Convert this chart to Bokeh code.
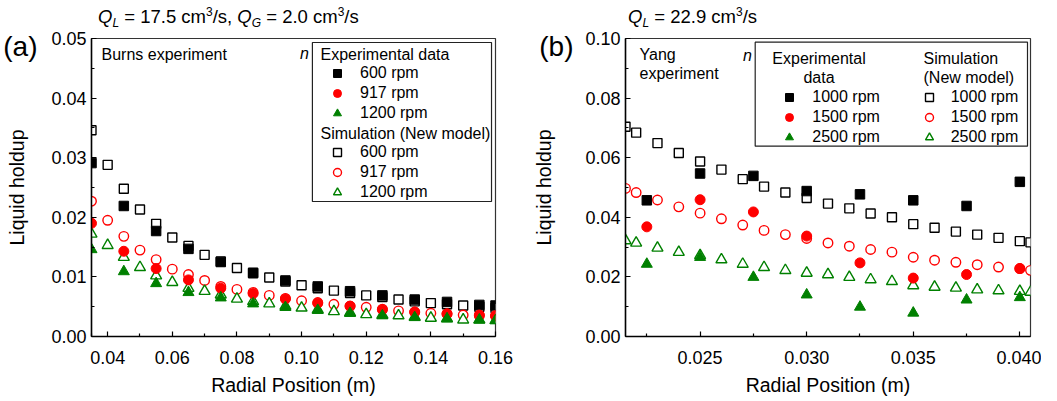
from bokeh.plotting import figure
from bokeh.layouts import row, column
from bokeh.models import (FixedTicker, NumeralTickFormatter, Label, Legend, LegendItem,
                          BoxAnnotation, Range1d, LinearAxis, Div)
from bokeh.embed import file_html
from bokeh.resources import INLINE

FONT = "Liberation Sans"
GREEN = "#008000"
RED = "#ff0000"

# ---------------- Panel (a): Burns experiment ----------------
a_sim_x = [0.035, 0.040, 0.045, 0.050, 0.055, 0.060, 0.065, 0.070, 0.075, 0.080, 0.085, 0.090, 0.095,
           0.100, 0.105, 0.110, 0.115, 0.120, 0.125, 0.130, 0.135, 0.140, 0.145, 0.150, 0.155, 0.160]
a_sim_600 = [0.0346, 0.0288, 0.0248, 0.0213, 0.0189, 0.0166, 0.0152, 0.0137, 0.0126, 0.0115, 0.0106, 0.0099, 0.0092,
             0.0086, 0.0081, 0.0077, 0.0073, 0.0069, 0.0066, 0.0062, 0.0059, 0.0056, 0.0054, 0.0052, 0.0050, 0.0048]
a_sim_917 = [0.0227, 0.0195, 0.0168, 0.0145, 0.0129, 0.0113, 0.0104, 0.0094, 0.0084, 0.0079, 0.0074, 0.0069, 0.0064,
             0.0060, 0.0057, 0.0054, 0.0051, 0.0049, 0.0046, 0.0043, 0.0041, 0.0039, 0.0038, 0.0036, 0.0035, 0.0034]
a_sim_1200 = [0.0172, 0.0153, 0.0133, 0.0116, 0.0102, 0.0091, 0.0081, 0.0076, 0.0070, 0.0063, 0.0059, 0.0055, 0.0051,
              0.0048, 0.0045, 0.0042, 0.0040, 0.0037, 0.0036, 0.0035, 0.0033, 0.0031, 0.0030, 0.0028, 0.0028, 0.0027]

a_exp_x = [0.035, 0.045, 0.055, 0.065, 0.075, 0.085, 0.095, 0.105, 0.115, 0.125, 0.135, 0.145, 0.155, 0.160]
a_exp_600 = [0.0291, 0.0219, 0.0177, 0.0147, 0.0125, 0.0107, 0.0094, 0.0084, 0.0076, 0.0069, 0.0062, 0.0058, 0.0053, 0.0052]
a_exp_917 = [0.0190, 0.0143, 0.0114, 0.0095, 0.0081, 0.0072, 0.0063, 0.0056, 0.0051, 0.0045, 0.0041, 0.0038, 0.0036, 0.0035]
a_exp_1200 = [0.0146, 0.0109, 0.0089, 0.0074, 0.0065, 0.0055, 0.0049, 0.0044, 0.0039, 0.0035, 0.0032, 0.0030, 0.0028, 0.0027]
a_labels = ["600 rpm", "917 rpm", "1200 rpm"]

# ---------------- Panel (b): Yang experiment ----------------
b_sim_x = [0.0215, 0.022, 0.023, 0.024, 0.025, 0.026, 0.027, 0.028, 0.029, 0.030, 0.031,
           0.032, 0.033, 0.034, 0.035, 0.036, 0.037, 0.038, 0.039, 0.040, 0.0405]
b_sim_1000 = [0.0704, 0.0684, 0.0649, 0.0616, 0.0587, 0.0560, 0.0528, 0.0503, 0.0483, 0.0465, 0.0446,
              0.0430, 0.0413, 0.0400, 0.0377, 0.0365, 0.0352, 0.0342, 0.0331, 0.0320, 0.0316]
b_sim_1500 = [0.0497, 0.0483, 0.0458, 0.0435, 0.0414, 0.0395, 0.0374, 0.0356, 0.0342, 0.0329, 0.0314,
              0.0303, 0.0292, 0.0283, 0.0266, 0.0256, 0.0249, 0.0241, 0.0233, 0.0228, 0.0222]
b_sim_2500 = [0.0322, 0.0314, 0.0297, 0.0283, 0.0272, 0.0258, 0.0243, 0.0232, 0.0222, 0.0213, 0.0208,
              0.0199, 0.0191, 0.0185, 0.0171, 0.0166, 0.0163, 0.0157, 0.0154, 0.0152, 0.0149]

b_exp_x = [0.0225, 0.025, 0.0275, 0.030, 0.0325, 0.035, 0.0375, 0.040]
b_exp_1000 = [0.0457, 0.0547, 0.0539, 0.0488, 0.0477, 0.0457, 0.0438, 0.0519]
b_exp_1500 = [0.0368, 0.0459, 0.0418, 0.0337, 0.0247, 0.0196, 0.0208, 0.0228]
b_exp_2500 = [0.0243, 0.0266, 0.0199, 0.0140, 0.0099, 0.0079, 0.0123, 0.0131]
b_labels = ["1000 rpm", "1500 rpm", "2500 rpm"]


class Frame:
    def __init__(self, left, top, x0, x1, y0, y1, w, h):
        self.left, self.top = left, top
        self.x0, self.x1, self.y0, self.y1 = x0, x1, y0, y1
        self.sx = w / (x1 - x0)
        self.sy = h / (y1 - y0)

    def dx(self, px):
        return self.x0 + (px - self.left) / self.sx

    def dy(self, py):
        return self.y1 - (py - self.top) / self.sy


def add_label(p, fr, px, py, text, size, style="normal", align="left", baseline="middle"):
    p.add_layout(Label(x=fr.x0, y=fr.y1, x_offset=px - fr.left, y_offset=fr.top - py,
                       text=text, text_font=FONT, text_font_size=f"{size}px",
                       text_font_style=style, text_align=align, text_baseline=baseline,
                       text_color="black"))


FH = 298
TOP = 8
BOTTOM = 64
H = TOP + FH + BOTTOM
DIV_H = 30


def make_fig(width, bl, br, xr, yr, xticks, xminor, yticks, yminor, xfmt, ylab_standoff):
    p = figure(width=width, height=H, x_range=Range1d(*xr), y_range=Range1d(*yr),
               output_backend="svg", toolbar_location=None,
               min_border_left=bl, min_border_right=br, min_border_top=TOP,
               min_border_bottom=BOTTOM)
    p.xgrid.visible = False
    p.ygrid.visible = False
    p.outline_line_color = "#333333"
    p.outline_line_width = 1.2
    p.background_fill_color = "white"
    p.border_fill_color = "white"
    p.xaxis.ticker = FixedTicker(ticks=xticks, minor_ticks=xminor)
    p.yaxis.ticker = FixedTicker(ticks=yticks, minor_ticks=yminor)
    p.xaxis.formatter = NumeralTickFormatter(format=xfmt)
    p.yaxis.formatter = NumeralTickFormatter(format="0.00")
    p.xaxis.axis_label = "Radial Position (m)"
    p.yaxis.axis_label = "Liquid holdup"
    for ax in (p.xaxis[0], p.yaxis[0]):
        ax.major_tick_in = 5
        ax.major_tick_out = 0
        ax.minor_tick_in = 3
        ax.minor_tick_out = 0
        ax.axis_line_width = 1.5
        ax.major_tick_line_width = 1.2
        ax.minor_tick_line_width = 1.2
        ax.major_label_text_font = FONT
        ax.major_label_text_font_size = "18px"
        ax.major_label_text_color = "black"
        ax.axis_label_text_font = FONT
        ax.axis_label_text_font_size = "19.5px"
        ax.axis_label_text_font_style = "normal"
        ax.axis_label_text_color = "black"
    p.xaxis.major_label_standoff = 14
    p.xaxis.axis_label_standoff = 7
    p.yaxis.major_label_standoff = 5
    p.yaxis.axis_label_standoff = ylab_standoff
    return p


def panel_tag(p, fr, text, py_center, standoff):
    """Panel letter, drawn as the only tick label of an extra left axis."""
    tick = fr.dy(py_center)
    ax = LinearAxis(ticker=FixedTicker(ticks=[tick], minor_ticks=[]),
                    major_label_overrides={tick: text},
                    axis_line_color=None, major_tick_line_color=None, minor_tick_line_color=None,
                    major_tick_in=0, major_tick_out=0, minor_tick_in=0, minor_tick_out=0,
                    major_label_standoff=standoff,
                    major_label_text_font=FONT, major_label_text_font_size="28px",
                    major_label_text_color="black")
    p.add_layout(ax, "left")


def draw_series(p, sim_x, sims, exp_x, exps):
    r_sim = [
        p.scatter(sim_x, sims[0], marker="square", size=9, fill_color="white", line_color="black", line_width=1.4),
        p.scatter(sim_x, sims[1], marker="circle", size=9.5, fill_color="white", line_color=RED, line_width=1.4),
        p.scatter(sim_x, sims[2], marker="triangle", size=11, fill_color="white", line_color=GREEN, line_width=1.4),
    ]
    r_exp = [
        p.scatter(exp_x, exps[0], marker="square", size=9.5, fill_color="black", line_color="black"),
        p.scatter(exp_x, exps[1], marker="circle", size=10, fill_color=RED, line_color=RED),
        p.scatter(exp_x, exps[2], marker="triangle", size=11, fill_color=GREEN, line_color=GREEN),
    ]
    return r_exp, r_sim


def add_legend(p, fr, renderers, labels, px_left, py_top, standoff):
    items = [LegendItem(label=l, renderers=[r]) for l, r in zip(labels, renderers)]
    n = len(items)
    leg = Legend(items=items, location=(px_left - fr.left, (fr.top + FH) - (py_top + 20 * n)),
                 border_line_alpha=0, background_fill_alpha=0, padding=0, margin=0, spacing=0,
                 label_height=20, glyph_height=20, glyph_width=34, label_standoff=standoff,
                 label_text_font=FONT, label_text_font_size="16px", label_text_color="black")
    p.add_layout(leg)


def add_box(p, fr, l, r, t, b):
    p.add_layout(BoxAnnotation(left=fr.dx(l), right=fr.dx(r), top=fr.dy(t), bottom=fr.dy(b),
                               fill_color=None, fill_alpha=0, line_color="#222222", line_width=1.2,
                               line_alpha=1))


# ---------- figure a ----------
fa = Frame(97, 38, 0.035, 0.16, 0.0, 0.05, 406, FH)
pa = make_fig(528, 89, 528 - 89 - 406, (0.035, 0.16), (0.0, 0.05),
              [0.04, 0.06, 0.08, 0.10, 0.12, 0.14, 0.16],
              [0.035, 0.05, 0.07, 0.09, 0.11, 0.13, 0.15],
              [0.0, 0.01, 0.02, 0.03, 0.04, 0.05],
              [0.005, 0.015, 0.025, 0.035, 0.045],
              "0.00", 20)
panel_tag(pa, fa, "(a)", 45, -34)
ea, sa = draw_series(pa, a_sim_x, [a_sim_600, a_sim_917, a_sim_1200],
                     a_exp_x, [a_exp_600, a_exp_917, a_exp_1200])
add_box(pa, fa, 319, 499, 42, 201)
add_label(pa, fa, 326, 54, "Experimental data", 16)
add_legend(pa, fa, ea, a_labels, 326, 62.7, 6)
add_label(pa, fa, 326, 132.5, "Simulation (New model)", 16)
add_legend(pa, fa, sa, a_labels, 326, 142, 6)
add_label(pa, fa, 107, 54, "Burns experiment", 16)
add_label(pa, fa, 310, 53, "n", 16, style="italic", align="center")

# ---------- figure b ----------
fb = Frame(633, 38, 0.0215, 0.0405, 0.0, 0.10, 405, FH)
pb = make_fig(513, 97, 513 - 97 - 405, (0.0215, 0.0405), (0.0, 0.10),
              [0.025, 0.030, 0.035, 0.040],
              [0.0225, 0.0275, 0.0325, 0.0375],
              [0.0, 0.02, 0.04, 0.06, 0.08, 0.10],
              [0.01, 0.03, 0.05, 0.07, 0.09],
              "0.000", 27)
panel_tag(pb, fb, "(b)", 45, -43)
eb, sb = draw_series(pb, b_sim_x, [b_sim_1000, b_sim_1500, b_sim_2500],
                     b_exp_x, [b_exp_1000, b_exp_1500, b_exp_2500])
add_box(pb, fb, 762.7, 1035, 41.7, 145.7)
add_label(pb, fb, 826.5, 58.3, "Experimental", 16, align="center")
add_label(pb, fb, 826.5, 76.7, "data", 16, align="center")
add_label(pb, fb, 931, 58.3, "Simulation", 16)
add_label(pb, fb, 931, 76.7, "(New model)", 16)
add_legend(pb, fb, eb, b_labels, 780.3, 86.7, 6)
add_legend(pb, fb, sb, b_labels, 919.7, 86.7, 5)
add_label(pb, fb, 647, 54, "Yang", 16)
add_label(pb, fb, 647, 72.7, "experiment", 16)
add_label(pb, fb, 755, 55, "n", 16, style="italic", align="center")

# ---------- condition titles (HTML for sub/superscripts) ----------
SUB = 'style="font-size:12px;position:relative;top:4px;font-style:italic"'
SUP = 'style="font-size:12px;position:relative;top:-7px"'


def cond(left, body):
    return (f'<span style="position:absolute;left:{left}px;top:8px;line-height:18px;'
            f'white-space:nowrap">{body}</span>')


title_a = (f'<i>Q</i><span {SUB}>L</span> = 17.5 cm<span {SUP}>3</span>/s, '
           f'<i>Q</i><span {SUB}>G</span> = 2.0 cm<span {SUP}>3</span>/s')
title_b = f'<i>Q</i><span {SUB}>L</span> = 22.9 cm<span {SUP}>3</span>/s'
html = (f'<div style="position:relative;width:1041px;height:{DIV_H}px;'
        f"font-family:'{FONT}';font-size:18.5px;color:black\">"
        + cond(98, title_a) + cond(628, title_b) + '</div>')
head = Div(text=html, width=1041, height=DIV_H, margin=0)

layout = column(head, row(pa, pb, spacing=0), spacing=0)
open("out.html", "w").write(file_html(layout, INLINE))
